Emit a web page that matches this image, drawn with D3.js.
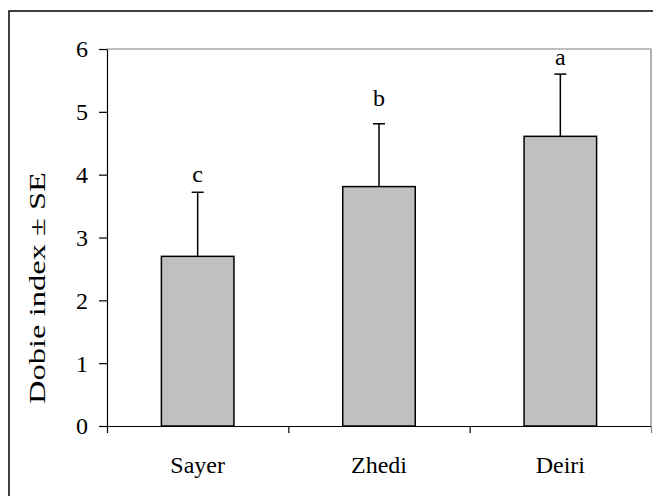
<!DOCTYPE html>
<html>
<head>
<meta charset="utf-8">
<script src="https://cdn.jsdelivr.net/npm/d3@7"></script>
<style>
  html, body { margin: 0; padding: 0; background: #fff; }
  svg { display: block; }
  text { font-family: "Liberation Serif", "Times New Roman", serif; fill: #000; }
</style>
</head>
<body>
<svg id="chart" width="653" height="496"></svg>
<script>
// ---- data ----
const categories = ["Sayer", "Zhedi", "Deiri"];
const means = [2.70, 3.81, 4.61];
const errors = [1.02, 1.00, 0.99];
const letters = ["c", "b", "a"];
const letterPos = [3.88, 5.09, 5.75];
const yTicks = [0, 1, 2, 3, 4, 5, 6];
const yLabel = "Dobie index \u00b1 SE";

(function () {
// ---- layout ----
const W = 653, H = 496;
const mLeft = 107, mRight = 651, mTop = 49, mBottom = 426;
const FS = 24;

const svg = d3.select("#chart");
svg.append("rect").attr("width", W).attr("height", H).attr("fill", "#fff");

// outer frame (right / bottom edges lie outside the picture)
svg.append("rect")
  .attr("x", 9).attr("y", 11).attr("width", 700).attr("height", 600)
  .attr("fill", "none").attr("stroke", "#000").attr("stroke-width", 1.5);

const y = d3.scaleLinear().domain([0, 6]).range([mBottom, mTop]);
const x = d3.scaleBand().domain(categories).range([mLeft, mRight])
  .paddingInner(0.6).paddingOuter(0.3);
const xEdges = d3.scaleLinear().domain([0, categories.length]).range([mLeft, mRight]);

// plot area gray border (top and right)
svg.append("path")
  .attr("d", `M${mLeft},${mTop}H${mRight}V${mBottom}`)
  .attr("fill", "none").attr("stroke", "#808080").attr("stroke-width", 1.2);

// bars
svg.selectAll("rect.bar").data(categories).enter().append("rect")
  .attr("class", "bar")
  .attr("x", d => x(d))
  .attr("width", x.bandwidth())
  .attr("y", (d, i) => y(means[i]))
  .attr("height", (d, i) => y(0) - y(means[i]))
  .attr("fill", "#C0C0C0").attr("stroke", "#000").attr("stroke-width", 1.5);

// error bars (upper only)
const cap = 6;
const eb = svg.append("g").attr("stroke", "#000").attr("stroke-width", 1.5).attr("fill", "none");
categories.forEach((c, i) => {
  const cx = x(c) + x.bandwidth() / 2;
  eb.append("line").attr("x1", cx).attr("x2", cx)
    .attr("y1", y(means[i])).attr("y2", y(means[i] + errors[i]));
  eb.append("line").attr("x1", cx - cap).attr("x2", cx + cap)
    .attr("y1", y(means[i] + errors[i])).attr("y2", y(means[i] + errors[i]));
});

// significance letters
svg.selectAll("text.letter").data(categories).enter().append("text")
  .attr("class", "letter")
  .attr("x", d => x(d) + x.bandwidth() / 2)
  .attr("y", (d, i) => y(letterPos[i]))
  .attr("text-anchor", "middle")
  .attr("font-size", FS)
  .text((d, i) => letters[i]);

// y axis
const yAxis = svg.append("g").attr("transform", `translate(${mLeft},0)`)
  .call(d3.axisLeft(y).tickValues(yTicks).tickFormat(d3.format("d"))
    .tickSize(8).tickPadding(11).tickSizeOuter(0));
yAxis.attr("font-family", null).attr("font-size", null);
yAxis.select(".domain").attr("stroke", "#000").attr("stroke-width", 1.2);
yAxis.selectAll(".tick line").attr("stroke", "#000").attr("stroke-width", 1.2);
yAxis.selectAll(".tick text").attr("font-size", FS).attr("dy", "0.33em");

// x axis: boundary ticks
const xAxis = svg.append("g").attr("transform", `translate(0,${mBottom})`)
  .call(d3.axisBottom(xEdges).tickValues(d3.range(categories.length + 1)).tickSize(7).tickFormat("").tickSizeOuter(0));
xAxis.select(".domain").attr("stroke", "#000").attr("stroke-width", 1.2);
xAxis.selectAll(".tick line").attr("stroke", (d, i) => i === categories.length ? "#808080" : "#000").attr("stroke-width", 1.2);

// x axis: category labels
const xLab = svg.append("g").attr("transform", `translate(0,${mBottom})`)
  .call(d3.axisBottom(x).tickSize(0).tickPadding(0));
xLab.attr("font-family", null).attr("font-size", null);
xLab.select(".domain").remove();
xLab.selectAll(".tick text").attr("font-size", FS)
  .attr("y", 47).attr("dy", 0);

// y axis title
svg.append("text")
  .attr("transform", `translate(45,288) rotate(-90)`)
  .attr("text-anchor", "middle")
  .attr("font-size", FS)
  .attr("textLength", 232)
  .attr("lengthAdjust", "spacingAndGlyphs")
  .text(yLabel);
})();
</script>
</body>
</html>
